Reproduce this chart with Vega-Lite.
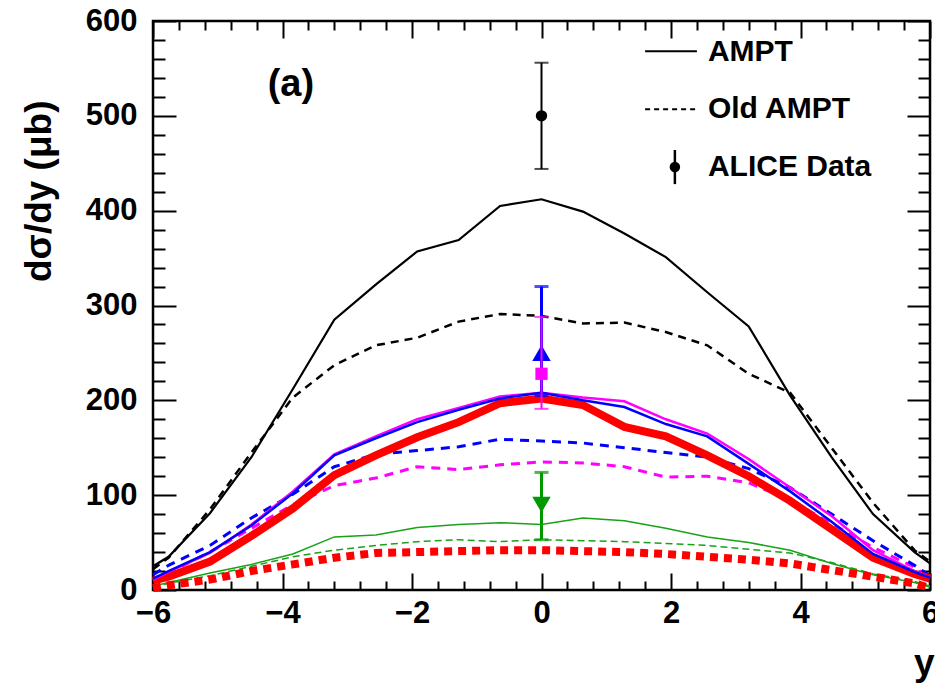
{
  "$schema": "https://vega.github.io/schema/vega-lite/v6.json",
  "width": 777,
  "height": 569,
  "autosize": {"type": "none"},
  "padding": {"left": 153, "top": 21, "right": 5, "bottom": 98},
  "background": "white",
  "config": {
    "view": {"stroke": "black", "strokeWidth": 2.5},
    "axis": {
      "grid": false, "domain": false,
      "labelFont": "Liberation Sans", "titleFont": "Liberation Sans",
      "labelFontWeight": "bold", "titleFontWeight": "bold",
      "labelColor": "black", "titleColor": "black", "tickColor": "black",
      "labelFontSize": 31, "titleFontSize": 37,
      "labelFlush": false, "labelOverlap": false
    }
  },
  "datasets": {
    "curves": [
      {"x": -6, "ampt": 25, "old": 22, "blue": 12, "mag": 11, "red": 10, "bdash": 16, "mdash": 10, "gsolid": 4, "gdash": 3, "rdot": 2},
      {"x": -5.76, "ampt": 35, "old": 34, "blue": 20, "mag": 19, "red": 14, "bdash": 26, "mdash": 18, "gsolid": 8, "gdash": 7, "rdot": 5},
      {"x": -5.12, "ampt": 81, "old": 85, "blue": 40, "mag": 39, "red": 30, "bdash": 47, "mdash": 40, "gsolid": 18, "gdash": 15, "rdot": 11},
      {"x": -4.48, "ampt": 140, "old": 145, "blue": 68, "mag": 69, "red": 57, "bdash": 76, "mdash": 65, "gsolid": 27, "gdash": 25, "rdot": 20},
      {"x": -3.84, "ampt": 212, "old": 203, "blue": 102, "mag": 104, "red": 86, "bdash": 101, "mdash": 90, "gsolid": 38, "gdash": 35, "rdot": 27},
      {"x": -3.2, "ampt": 285, "old": 237, "blue": 142, "mag": 143, "red": 121, "bdash": 130, "mdash": 110, "gsolid": 56, "gdash": 42, "rdot": 34},
      {"x": -2.56, "ampt": 322, "old": 258, "blue": 160, "mag": 162, "red": 142, "bdash": 143, "mdash": 118, "gsolid": 58, "gdash": 47, "rdot": 39},
      {"x": -1.92, "ampt": 357, "old": 266, "blue": 177, "mag": 180, "red": 161, "bdash": 147, "mdash": 130, "gsolid": 66, "gdash": 51, "rdot": 40},
      {"x": -1.28, "ampt": 369, "old": 283, "blue": 190, "mag": 192, "red": 177, "bdash": 151, "mdash": 127, "gsolid": 69, "gdash": 53, "rdot": 41},
      {"x": -0.64, "ampt": 405, "old": 291, "blue": 202, "mag": 204, "red": 197, "bdash": 159, "mdash": 132, "gsolid": 71, "gdash": 51, "rdot": 42},
      {"x": 0, "ampt": 412, "old": 289, "blue": 208, "mag": 208, "red": 202, "bdash": 157, "mdash": 135, "gsolid": 69, "gdash": 53, "rdot": 42},
      {"x": 0.64, "ampt": 399, "old": 281, "blue": 200, "mag": 203, "red": 195, "bdash": 155, "mdash": 134, "gsolid": 76, "gdash": 52, "rdot": 41},
      {"x": 1.28, "ampt": 376, "old": 282, "blue": 193, "mag": 199, "red": 172, "bdash": 150, "mdash": 130, "gsolid": 73, "gdash": 51, "rdot": 40},
      {"x": 1.92, "ampt": 351, "old": 272, "blue": 175, "mag": 180, "red": 162, "bdash": 145, "mdash": 119, "gsolid": 65, "gdash": 49, "rdot": 38},
      {"x": 2.56, "ampt": 314, "old": 258, "blue": 162, "mag": 165, "red": 142, "bdash": 140, "mdash": 120, "gsolid": 56, "gdash": 47, "rdot": 35},
      {"x": 3.2, "ampt": 278, "old": 228, "blue": 133, "mag": 138, "red": 120, "bdash": 128, "mdash": 113, "gsolid": 50, "gdash": 43, "rdot": 32},
      {"x": 3.84, "ampt": 205, "old": 208, "blue": 104, "mag": 108, "red": 94, "bdash": 108, "mdash": 95, "gsolid": 42, "gdash": 39, "rdot": 28},
      {"x": 4.48, "ampt": 140, "old": 150, "blue": 72, "mag": 78, "red": 64, "bdash": 80, "mdash": 70, "gsolid": 28, "gdash": 29, "rdot": 21},
      {"x": 5.12, "ampt": 80, "old": 92, "blue": 38, "mag": 42, "red": 34, "bdash": 52, "mdash": 45, "gsolid": 16, "gdash": 17, "rdot": 14},
      {"x": 5.76, "ampt": 40, "old": 42, "blue": 19, "mag": 20, "red": 17, "bdash": 26, "mdash": 24, "gsolid": 8, "gdash": 9, "rdot": 7},
      {"x": 6, "ampt": 28, "old": 30, "blue": 13, "mag": 13, "red": 12, "bdash": 15, "mdash": 12, "gsolid": 3, "gdash": 4, "rdot": 2}
    ],
    "pts": [
      {"x": 0, "y": 250, "lo": 205, "hi": 320, "g": "blue"},
      {"x": 0, "y": 228, "lo": 191, "hi": 288, "g": "mag"},
      {"x": 0, "y": 90, "lo": 53, "hi": 124, "g": "green"},
      {"x": 0, "y": 500, "lo": 444, "hi": 556, "g": "alice"}
    ],
    "legLines": [
      {"x": 1.6, "x2": 2.4, "y": 568, "k": "AMPT"},
      {"x": 1.6, "x2": 2.4, "y": 507, "k": "Old AMPT"}
    ],
    "legPt": [{"x": 2.06, "y": 446, "lo": 428, "hi": 464}],
    "labels": [
      {"x": 2.57, "y": 567, "t": "AMPT", "k": "leg"},
      {"x": 2.57, "y": 507, "t": "Old AMPT", "k": "leg"},
      {"x": 2.57, "y": 446, "t": "ALICE Data", "k": "leg"},
      {"x": -3.87, "y": 532, "t": "(a)", "k": "panel"}
    ],
    "one": [{"x": 0, "y": 0}]
  },
  "resolve": {"axis": {"x": "independent", "y": "independent"}},
  "layer": [
    {
      "data": {"name": "curves"},
      "encoding": {
        "x": {"field": "x", "type": "quantitative", "title": "y", "scale": {"domain": [-6, 6], "nice": false, "zero": false},
          "axis": {"orient": "bottom", "values": [-6, -4, -2, 0, 2, 4, 6], "ticks": false, "labelPadding": 8, "labelBaseline": "top",
            "title": "y", "titleAnchor": "end", "titleAlign": "right", "titleBaseline": "alphabetic", "titleAngle": 0, "titleX": 781, "titleY": 84}}
      },
      "layer": [
        {"mark": {"type": "line", "color": "#17a317", "strokeWidth": 1.5, "strokeDash": [7, 4]},
         "encoding": {"y": {"field": "gdash", "type": "quantitative", "title": "dσ/dy (μb)", "scale": {"domain": [0, 600], "nice": false},
           "axis": {"orient": "left", "values": [0, 100, 200, 300, 400, 500, 600], "ticks": false, "labelPadding": 16,
             "title": "dσ/dy (μb)", "titleAnchor": "end", "titleAlign": "right", "titleBaseline": "alphabetic", "titleAngle": 270, "titleX": -103, "titleY": 79}}}},
        {"mark": {"type": "line", "color": "#17a317", "strokeWidth": 1.5},
         "encoding": {"y": {"field": "gsolid", "type": "quantitative", "title": "dσ/dy (μb)"}}},
        {"mark": {"type": "line", "color": "#ff0000", "strokeWidth": 8, "strokeDash": [8, 6], "strokeCap": "butt"},
         "encoding": {"y": {"field": "rdot", "type": "quantitative", "title": "dσ/dy (μb)"}}},
        {"mark": {"type": "line", "color": "#ff00ff", "strokeWidth": 3, "strokeDash": [9, 7]},
         "encoding": {"y": {"field": "mdash", "type": "quantitative", "title": "dσ/dy (μb)"}}},
        {"mark": {"type": "line", "color": "#0000ff", "strokeWidth": 3, "strokeDash": [9, 7]},
         "encoding": {"y": {"field": "bdash", "type": "quantitative", "title": "dσ/dy (μb)"}}},
        {"mark": {"type": "line", "color": "black", "strokeWidth": 2.5, "strokeDash": [8, 6]},
         "encoding": {"y": {"field": "old", "type": "quantitative", "title": "dσ/dy (μb)"}}},
        {"mark": {"type": "line", "color": "black", "strokeWidth": 2.2},
         "encoding": {"y": {"field": "ampt", "type": "quantitative", "title": "dσ/dy (μb)"}}},
        {"mark": {"type": "line", "color": "#ff0000", "strokeWidth": 8},
         "encoding": {"y": {"field": "red", "type": "quantitative", "title": "dσ/dy (μb)"}}},
        {"mark": {"type": "line", "color": "#ff00ff", "strokeWidth": 2.5},
         "encoding": {"y": {"field": "mag", "type": "quantitative", "title": "dσ/dy (μb)"}}},
        {"mark": {"type": "line", "color": "#0000ff", "strokeWidth": 2.5},
         "encoding": {"y": {"field": "blue", "type": "quantitative", "title": "dσ/dy (μb)"}}},
        {"data": {"name": "pts"}, "transform": [{"filter": "datum.g == 'blue'"}],
         "mark": {"type": "errorbar", "color": "#0000ff", "thickness": 3, "ticks": {"size": 14}},
         "encoding": {"y": {"field": "lo", "type": "quantitative", "title": "dσ/dy (μb)"}, "y2": {"field": "hi"}}},
        {"data": {"name": "pts"}, "transform": [{"filter": "datum.g == 'blue'"}],
         "mark": {"type": "point", "shape": "triangle-up", "filled": true, "opacity": 1, "color": "#0000ff", "size": 340},
         "encoding": {"y": {"field": "y", "type": "quantitative", "title": "dσ/dy (μb)"}}},
        {"data": {"name": "pts"}, "transform": [{"filter": "datum.g == 'mag'"}],
         "mark": {"type": "errorbar", "color": "#ff00ff", "thickness": 2, "ticks": {"size": 14}},
         "encoding": {"y": {"field": "lo", "type": "quantitative", "title": "dσ/dy (μb)"}, "y2": {"field": "hi"}}},
        {"data": {"name": "pts"}, "transform": [{"filter": "datum.g == 'mag'"}],
         "mark": {"type": "point", "shape": "square", "filled": true, "opacity": 1, "color": "#ff00ff", "size": 150},
         "encoding": {"y": {"field": "y", "type": "quantitative", "title": "dσ/dy (μb)"}}},
        {"data": {"name": "pts"}, "transform": [{"filter": "datum.g == 'green'"}],
         "mark": {"type": "errorbar", "color": "#009a00", "thickness": 3, "ticks": {"size": 14}},
         "encoding": {"y": {"field": "lo", "type": "quantitative", "title": "dσ/dy (μb)"}, "y2": {"field": "hi"}}},
        {"data": {"name": "pts"}, "transform": [{"filter": "datum.g == 'green'"}],
         "mark": {"type": "point", "shape": "triangle-down", "filled": true, "opacity": 1, "color": "#009a00", "size": 340},
         "encoding": {"y": {"field": "y", "type": "quantitative", "title": "dσ/dy (μb)"}}},
        {"data": {"name": "pts"}, "transform": [{"filter": "datum.g == 'alice'"}],
         "mark": {"type": "errorbar", "color": "black", "thickness": 2, "ticks": {"size": 14}},
         "encoding": {"y": {"field": "lo", "type": "quantitative", "title": "dσ/dy (μb)"}, "y2": {"field": "hi"}}},
        {"data": {"name": "pts"}, "transform": [{"filter": "datum.g == 'alice'"}],
         "mark": {"type": "point", "shape": "circle", "filled": true, "opacity": 1, "color": "black", "size": 130},
         "encoding": {"y": {"field": "y", "type": "quantitative", "title": "dσ/dy (μb)"}}},
        {"data": {"name": "legLines"}, "transform": [{"filter": "datum.k == 'AMPT'"}],
         "mark": {"type": "rule", "color": "black", "strokeWidth": 2},
         "encoding": {"x2": {"field": "x2"}, "y": {"field": "y", "type": "quantitative", "title": "dσ/dy (μb)"}}},
        {"data": {"name": "legLines"}, "transform": [{"filter": "datum.k == 'Old AMPT'"}],
         "mark": {"type": "rule", "color": "black", "strokeWidth": 2, "strokeDash": [5, 4]},
         "encoding": {"x2": {"field": "x2"}, "y": {"field": "y", "type": "quantitative", "title": "dσ/dy (μb)"}}},
        {"data": {"name": "legPt"},
         "mark": {"type": "rule", "color": "black", "strokeWidth": 2.5},
         "encoding": {"y": {"field": "lo", "type": "quantitative", "title": "dσ/dy (μb)"}, "y2": {"field": "hi"}}},
        {"data": {"name": "legPt"},
         "mark": {"type": "point", "shape": "circle", "filled": true, "opacity": 1, "color": "black", "size": 110},
         "encoding": {"y": {"field": "y", "type": "quantitative", "title": "dσ/dy (μb)"}}},
        {"data": {"name": "labels"}, "transform": [{"filter": "datum.k == 'leg'"}],
         "mark": {"type": "text", "align": "left", "baseline": "middle", "font": "Liberation Sans", "fontWeight": "bold", "fontSize": 30, "color": "black"},
         "encoding": {"y": {"field": "y", "type": "quantitative", "title": "dσ/dy (μb)"}, "text": {"field": "t"}}},
        {"data": {"name": "labels"}, "transform": [{"filter": "datum.k == 'panel'"}],
         "mark": {"type": "text", "align": "center", "baseline": "middle", "font": "Liberation Sans", "fontWeight": "bold", "fontSize": 38, "color": "black"},
         "encoding": {"y": {"field": "y", "type": "quantitative", "title": "dσ/dy (μb)"}, "text": {"field": "t"}}}
      ]
    },
    {
      "data": {"name": "one"},
      "mark": {"type": "point", "opacity": 0},
      "encoding": {
        "x": {"field": "x", "type": "quantitative", "scale": {"domain": [-6, 6], "nice": false, "zero": false},
          "axis": {"orient": "bottom", "labels": false, "title": null, "tickSize": -17, "tickWidth": 2, "values": [-6, -4, -2, 0, 2, 4, 6]}},
        "y": {"field": "y", "type": "quantitative", "scale": {"domain": [0, 600], "nice": false},
          "axis": {"orient": "left", "labels": false, "title": null, "tickSize": -23, "tickWidth": 2, "values": [0, 100, 200, 300, 400, 500, 600]}}
      }
    },
    {
      "data": {"name": "one"},
      "mark": {"type": "point", "opacity": 0},
      "encoding": {
        "x": {"field": "x", "type": "quantitative", "scale": {"domain": [-6, 6], "nice": false, "zero": false},
          "axis": {"orient": "bottom", "labels": false, "title": null, "tickSize": -9, "tickWidth": 2,
            "values": [-5.6, -5.2, -4.8, -4.4, -3.6, -3.2, -2.8, -2.4, -1.6, -1.2, -0.8, -0.4, 0.4, 0.8, 1.2, 1.6, 2.4, 2.8, 3.2, 3.6, 4.4, 4.8, 5.2, 5.6]}},
        "y": {"field": "y", "type": "quantitative", "scale": {"domain": [0, 600], "nice": false},
          "axis": {"orient": "left", "labels": false, "title": null, "tickSize": -12, "tickWidth": 2,
            "values": [20, 40, 60, 80, 120, 140, 160, 180, 220, 240, 260, 280, 320, 340, 360, 380, 420, 440, 460, 480, 520, 540, 560, 580]}}
      }
    },
    {
      "data": {"name": "one"},
      "mark": {"type": "point", "opacity": 0},
      "encoding": {
        "x": {"field": "x", "type": "quantitative", "scale": {"domain": [-6, 6], "nice": false, "zero": false},
          "axis": {"orient": "top", "labels": false, "title": null, "tickSize": -17, "tickWidth": 2, "values": [-6, -4, -2, 0, 2, 4, 6]}},
        "y": {"field": "y", "type": "quantitative", "scale": {"domain": [0, 600], "nice": false},
          "axis": {"orient": "right", "labels": false, "title": null, "tickSize": -23, "tickWidth": 2, "values": [0, 100, 200, 300, 400, 500, 600]}}
      }
    },
    {
      "data": {"name": "one"},
      "mark": {"type": "point", "opacity": 0},
      "encoding": {
        "x": {"field": "x", "type": "quantitative", "scale": {"domain": [-6, 6], "nice": false, "zero": false},
          "axis": {"orient": "top", "labels": false, "title": null, "tickSize": -9, "tickWidth": 2,
            "values": [-5.6, -5.2, -4.8, -4.4, -3.6, -3.2, -2.8, -2.4, -1.6, -1.2, -0.8, -0.4, 0.4, 0.8, 1.2, 1.6, 2.4, 2.8, 3.2, 3.6, 4.4, 4.8, 5.2, 5.6]}},
        "y": {"field": "y", "type": "quantitative", "scale": {"domain": [0, 600], "nice": false},
          "axis": {"orient": "right", "labels": false, "title": null, "tickSize": -12, "tickWidth": 2,
            "values": [20, 40, 60, 80, 120, 140, 160, 180, 220, 240, 260, 280, 320, 340, 360, 380, 420, 440, 460, 480, 520, 540, 560, 580]}}
      }
    }
  ]
}
